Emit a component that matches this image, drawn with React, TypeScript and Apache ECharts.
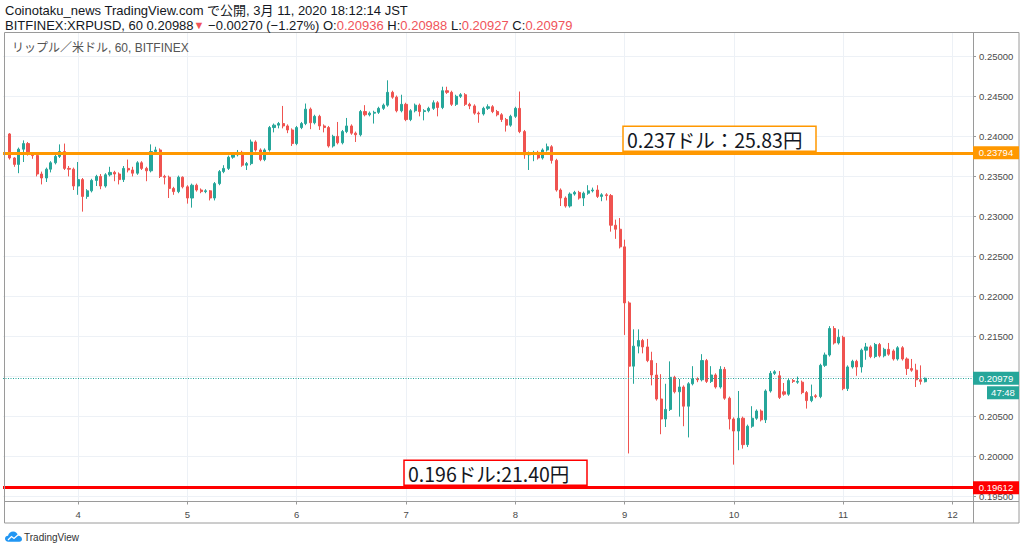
import React, { useEffect, useRef } from "react";
import * as echarts from "echarts";

// Hourly candles, each row = [open, high, low, close]
const mar03: number[][] = [
  [0.2403, 0.2404, 0.2371, 0.2373], [0.2373, 0.2374, 0.2362, 0.2365], [0.2365, 0.2386, 0.2354, 0.2384],
  [0.2384, 0.2395, 0.2368, 0.2391], [0.2391, 0.2393, 0.2376, 0.2378], [0.2378, 0.238, 0.2372, 0.2376],
  [0.2376, 0.2378, 0.235, 0.2353], [0.2353, 0.2356, 0.234, 0.2348], [0.2348, 0.2361, 0.2343, 0.2359],
  [0.2359, 0.2369, 0.2355, 0.2367], [0.2367, 0.2377, 0.2365, 0.2375], [0.2375, 0.239, 0.2373, 0.2381],
  [0.2381, 0.2391, 0.2358, 0.236], [0.236, 0.2363, 0.235, 0.2359], [0.2359, 0.2361, 0.2333, 0.2338],
];
const mar04: number[][] = [
  [0.2338, 0.2368, 0.2327, 0.2346], [0.2346, 0.2348, 0.2306, 0.2325], [0.2325, 0.2334, 0.2322, 0.2332],
  [0.2332, 0.2347, 0.233, 0.2345], [0.2345, 0.2352, 0.2338, 0.235], [0.235, 0.2353, 0.2334, 0.2338],
  [0.2338, 0.2354, 0.2336, 0.2352], [0.2352, 0.2362, 0.235, 0.2355], [0.2355, 0.2357, 0.2344, 0.2353],
  [0.2353, 0.2355, 0.234, 0.2346], [0.2346, 0.2363, 0.2343, 0.236], [0.236, 0.2371, 0.2355, 0.2358],
  [0.2358, 0.2362, 0.235, 0.2354], [0.2354, 0.2369, 0.2352, 0.2367], [0.2367, 0.2369, 0.2358, 0.236],
  [0.236, 0.2362, 0.2344, 0.2357], [0.2357, 0.239, 0.2355, 0.2381], [0.2381, 0.2387, 0.2378, 0.2383],
  [0.2383, 0.2385, 0.2348, 0.235], [0.235, 0.2352, 0.234, 0.2349], [0.2349, 0.2351, 0.2323, 0.2335],
  [0.2335, 0.2337, 0.2327, 0.2331], [0.2331, 0.2351, 0.2329, 0.2349], [0.2349, 0.235, 0.2335, 0.2337],
];
const mar05: number[][] = [
  [0.2337, 0.2339, 0.2316, 0.2323], [0.2323, 0.2341, 0.2311, 0.2339], [0.2339, 0.2341, 0.2331, 0.2333],
  [0.2333, 0.2335, 0.2329, 0.2331], [0.2331, 0.2334, 0.2329, 0.2332], [0.2332, 0.2333, 0.232, 0.2323],
  [0.2323, 0.2343, 0.232, 0.2341], [0.2341, 0.2358, 0.2339, 0.2356], [0.2356, 0.2364, 0.2354, 0.236],
  [0.236, 0.2376, 0.2358, 0.2374], [0.2374, 0.2379, 0.2372, 0.2377], [0.2377, 0.2383, 0.2375, 0.238],
  [0.238, 0.2382, 0.2362, 0.2364], [0.2364, 0.2368, 0.2358, 0.2366], [0.2366, 0.2396, 0.2364, 0.2393],
  [0.2393, 0.2395, 0.2381, 0.2383], [0.2383, 0.2385, 0.2369, 0.2371], [0.2371, 0.2385, 0.2369, 0.2383],
  [0.2383, 0.2413, 0.2381, 0.2411], [0.2411, 0.2416, 0.2405, 0.2414], [0.2414, 0.2418, 0.241, 0.2416],
  [0.2416, 0.2438, 0.241, 0.2413], [0.2413, 0.2415, 0.2404, 0.2408], [0.2408, 0.241, 0.2388, 0.2391],
];
const mar06: number[][] = [
  [0.2391, 0.2413, 0.2389, 0.2411], [0.2411, 0.2418, 0.2409, 0.2416], [0.2416, 0.2441, 0.2414, 0.2434],
  [0.2434, 0.2436, 0.2409, 0.2417], [0.2417, 0.2427, 0.2415, 0.2425], [0.2425, 0.2427, 0.2408, 0.2413],
  [0.2413, 0.2415, 0.2405, 0.2411], [0.2411, 0.2413, 0.2386, 0.2388], [0.2388, 0.2402, 0.2386, 0.24],
  [0.24, 0.2418, 0.239, 0.2392], [0.2392, 0.2408, 0.239, 0.2406], [0.2406, 0.2423, 0.2404, 0.2413],
  [0.2413, 0.2415, 0.2402, 0.2404], [0.2404, 0.2406, 0.2393, 0.2402], [0.2402, 0.2433, 0.24, 0.2431],
  [0.2431, 0.2439, 0.2425, 0.2427], [0.2427, 0.2431, 0.2425, 0.2429], [0.2429, 0.2432, 0.2416, 0.243],
  [0.243, 0.2437, 0.2428, 0.2435], [0.2435, 0.2441, 0.2433, 0.2439], [0.2439, 0.247, 0.2437, 0.2455],
  [0.2455, 0.2457, 0.2447, 0.2449], [0.2449, 0.2451, 0.243, 0.2432], [0.2432, 0.2452, 0.243, 0.244],
];
const mar07: number[][] = [
  [0.244, 0.2442, 0.2419, 0.2421], [0.2421, 0.2434, 0.2419, 0.2432], [0.2432, 0.2441, 0.243, 0.2439],
  [0.2439, 0.2441, 0.2425, 0.2431], [0.2431, 0.2434, 0.242, 0.2432], [0.2432, 0.2437, 0.243, 0.2435],
  [0.2435, 0.2445, 0.2433, 0.2442], [0.2442, 0.2444, 0.2425, 0.2436], [0.2436, 0.2462, 0.2434, 0.2457],
  [0.2457, 0.2462, 0.2453, 0.2455], [0.2455, 0.2457, 0.2438, 0.244], [0.244, 0.2452, 0.2438, 0.245],
  [0.245, 0.2454, 0.2448, 0.2452], [0.2452, 0.2454, 0.2438, 0.244], [0.244, 0.2442, 0.2434, 0.2438],
  [0.2438, 0.244, 0.2427, 0.2429], [0.2429, 0.2431, 0.2417, 0.2428], [0.2428, 0.2437, 0.2426, 0.2435],
  [0.2435, 0.244, 0.2433, 0.2437], [0.2437, 0.2439, 0.2429, 0.2431], [0.2431, 0.2433, 0.2425, 0.2427],
  [0.2427, 0.2429, 0.2418, 0.2421], [0.2421, 0.2423, 0.2406, 0.2414], [0.2414, 0.2427, 0.2412, 0.2425],
];
const mar08: number[][] = [
  [0.2425, 0.2437, 0.2423, 0.2435], [0.2435, 0.2456, 0.2404, 0.2406], [0.2406, 0.2408, 0.2372, 0.2377],
  [0.2377, 0.2381, 0.2358, 0.2379], [0.2379, 0.2382, 0.2369, 0.238], [0.238, 0.2382, 0.2371, 0.2373],
  [0.2373, 0.2385, 0.2371, 0.2383], [0.2383, 0.2391, 0.2381, 0.2387], [0.2387, 0.2389, 0.2366, 0.237],
  [0.237, 0.2372, 0.2331, 0.2333], [0.2333, 0.2335, 0.2313, 0.2323], [0.2323, 0.2325, 0.2311, 0.2313],
  [0.2313, 0.233, 0.2311, 0.2328], [0.2328, 0.2332, 0.2326, 0.233], [0.233, 0.2332, 0.2321, 0.2323],
  [0.2323, 0.2331, 0.2313, 0.2329], [0.2329, 0.2339, 0.2327, 0.2332], [0.2332, 0.2336, 0.233, 0.2333],
  [0.2333, 0.2339, 0.2323, 0.2325], [0.2325, 0.2329, 0.2319, 0.2327], [0.2327, 0.2329, 0.232, 0.2326],
  [0.2326, 0.2328, 0.2281, 0.2289], [0.2289, 0.2296, 0.2272, 0.2284], [0.2284, 0.2298, 0.226, 0.2262],
];
const mar09: number[][] = [
  [0.2262, 0.2271, 0.2152, 0.2192], [0.2192, 0.2194, 0.2004, 0.2113], [0.2113, 0.2159, 0.2091, 0.2138],
  [0.2138, 0.2159, 0.2129, 0.2145], [0.2145, 0.2147, 0.2129, 0.2137], [0.2137, 0.2147, 0.2118, 0.212],
  [0.212, 0.2131, 0.2089, 0.2102], [0.2102, 0.2117, 0.207, 0.2072], [0.2072, 0.2103, 0.2028, 0.2047],
  [0.2047, 0.2091, 0.2037, 0.2059], [0.2059, 0.2119, 0.2057, 0.2099], [0.2099, 0.2101, 0.2079, 0.2081],
  [0.2081, 0.2097, 0.205, 0.2087], [0.2087, 0.2089, 0.2038, 0.2063], [0.2063, 0.2093, 0.2024, 0.2091],
  [0.2091, 0.2113, 0.2089, 0.2097], [0.2097, 0.2099, 0.2093, 0.2096], [0.2096, 0.2128, 0.2094, 0.212],
  [0.212, 0.2122, 0.2092, 0.2094], [0.2094, 0.2113, 0.2092, 0.2102], [0.2102, 0.2104, 0.2085, 0.2087],
  [0.2087, 0.2113, 0.2085, 0.2109], [0.2109, 0.2112, 0.2071, 0.2073], [0.2073, 0.2075, 0.2034, 0.2047],
];
const mar10: number[][] = [
  [0.2047, 0.2049, 0.199, 0.2032], [0.2032, 0.2082, 0.2008, 0.2048], [0.2048, 0.205, 0.201, 0.2015],
  [0.2015, 0.204, 0.2012, 0.2038], [0.2038, 0.2063, 0.2036, 0.2048], [0.2048, 0.2059, 0.2046, 0.2057],
  [0.2057, 0.2059, 0.2044, 0.2046], [0.2046, 0.2084, 0.2042, 0.2082], [0.2082, 0.2107, 0.208, 0.2104],
  [0.2104, 0.2108, 0.2102, 0.2106], [0.2101, 0.2107, 0.2072, 0.2074], [0.2081, 0.2092, 0.2076, 0.2078],
  [0.2078, 0.2097, 0.2076, 0.2095], [0.2095, 0.2097, 0.2092, 0.2094], [0.2093, 0.21, 0.2091, 0.2094],
  [0.2093, 0.2095, 0.2078, 0.208], [0.208, 0.2082, 0.206, 0.207], [0.207, 0.209, 0.2068, 0.2075],
  [0.2076, 0.2078, 0.2073, 0.2075], [0.2075, 0.2116, 0.2073, 0.2114], [0.2114, 0.213, 0.2112, 0.2127],
  [0.2127, 0.2163, 0.2125, 0.216], [0.216, 0.2163, 0.214, 0.2142], [0.2142, 0.2159, 0.214, 0.2149],
];
const mar11: number[][] = [
  [0.2149, 0.2151, 0.2083, 0.2085], [0.2085, 0.2114, 0.2082, 0.2112], [0.2112, 0.2121, 0.211, 0.2119],
  [0.2119, 0.2121, 0.2101, 0.2112], [0.2112, 0.2135, 0.2105, 0.2133], [0.2133, 0.2142, 0.2121, 0.2137],
  [0.2137, 0.2139, 0.2123, 0.2125], [0.2125, 0.2142, 0.2123, 0.214], [0.214, 0.2142, 0.2124, 0.2126],
  [0.2126, 0.2136, 0.2124, 0.2134], [0.2134, 0.2142, 0.2126, 0.2128], [0.2132, 0.2134, 0.212, 0.2122],
  [0.2122, 0.2138, 0.212, 0.2136], [0.2136, 0.2138, 0.212, 0.2122], [0.2122, 0.2124, 0.2102, 0.211],
  [0.211, 0.2122, 0.2106, 0.2108], [0.2108, 0.2116, 0.2087, 0.2096], [0.2096, 0.2114, 0.209, 0.2094],
  [0.20936, 0.20988, 0.20927, 0.20979],
];

const dailyCandles = [mar03, mar04, mar05, mar06, mar07, mar08, mar09, mar10, mar11];
const firstCandleDay = 3;
const firstCandleHour = 9;
const slotsBefore = 1;
const slotsAfter = 10;
const dayTickLabels = ["4", "5", "6", "7", "8", "9", "10", "11", "12"];
const priceTicks = [0.195, 0.2, 0.205, 0.21, 0.215, 0.22, 0.225, 0.23, 0.235, 0.24, 0.245, 0.25];
const priceMin = 0.194398;
const priceMax = 0.253035;
const levelOrange = 0.23794;
const levelRed = 0.19612;
const lastClose = 0.20979;
const countdown = "47:48";
const noteOrange = "0.237ドル：25.83円";
const noteRed = "0.196ドル:21.40円";

const UP = "#26a69a";
const DOWN = "#ef5350";
const ORANGE = "#ff9800";
const RED = "#ff0000";
const GRIDC = "#edf1f6";
const FRAME = "#9a9a9a";
const LATIN = "'Liberation Sans', 'Noto Sans CJK JP', sans-serif";
const CJK = "'Noto Sans CJK JP', sans-serif";

export default function App() {
  const ref = useRef<HTMLDivElement>(null);

  useEffect(() => {
    if (!ref.current) return;
    const chart = echarts.init(ref.current, undefined, { renderer: "svg" });

    const candles = dailyCandles.flat();
    const totalSlots = slotsBefore + candles.length + slotsAfter;
    const categories: string[] = [];
    const tickMap: Record<string, string> = {};
    let dayIdx = 0;
    for (let j = 0; j < totalSlots; j++) {
      const h = j - slotsBefore + firstCandleHour;
      const day = firstCandleDay + Math.floor(h / 24);
      const hour = ((h % 24) + 24) % 24;
      const name = `3/${day} ${String(hour).padStart(2, "0")}:00`;
      categories.push(name);
      if (hour === 0 && dayIdx < dayTickLabels.length) {
        tickMap[name] = dayTickLabels[dayIdx++];
      }
    }
    const dayCats = Object.keys(tickMap);
    const rows = candles.map((c, i) => [i + slotsBefore, c[0], c[3], c[2], c[1]]);

    chart.setOption({
      animation: false,
      grid: { left: 3, right: 51, top: 32, bottom: 50.5, containLabel: false },
      xAxis: {
        type: "category",
        data: categories,
        boundaryGap: true,
        axisLine: { show: false },
        axisTick: {
          show: true,
          alignWithLabel: true,
          length: 3,
          interval: (_i: number, v: string) => v in tickMap,
          lineStyle: { color: FRAME },
        },
        axisLabel: {
          interval: (_i: number, v: string) => v in tickMap,
          formatter: (v: string) => tickMap[v] ?? "",
          color: "#4a4a4a",
          fontSize: 9.5,
          fontFamily: LATIN,
          margin: 8,
        },
        splitLine: { show: false },
      },
      yAxis: {
        type: "value",
        position: "right",
        min: priceMin,
        max: priceMax,
        scale: true,
        axisLine: { show: false },
        axisTick: { show: true, length: 3, customValues: priceTicks, lineStyle: { color: FRAME } },
        axisLabel: {
          customValues: priceTicks,
          formatter: (v: number) => v.toFixed(5),
          color: "#4a4a4a",
          fontSize: 9.5,
          fontFamily: LATIN,
          margin: 6,
        },
        splitLine: { show: false },
      },
      series: [
        {
          type: "line",
          data: [],
          z: 1,
          silent: true,
          markLine: {
            silent: true,
            z: 1,
            precision: 6,
            symbol: ["none", "none"],
            label: { show: false },
            emphasis: { disabled: true },
            lineStyle: { color: GRIDC, width: 1, type: "solid" },
            data: [
              ...priceTicks.map((v) => ({ yAxis: v })),
              ...dayCats.map((c) => ({ xAxis: c })),
            ],
          },
        },
        {
          type: "candlestick",
          z: 3,
          encode: { x: 0, y: [1, 2, 3, 4] },
          data: rows,
          barWidth: 2.6,
          itemStyle: {
            color: UP,
            color0: DOWN,
            borderColor: UP,
            borderColor0: DOWN,
            borderWidth: 1,
          },
          markLine: {
            silent: true,
            z: 6,
            precision: 6,
            symbol: ["none", "none"],
            label: { show: false },
            emphasis: { disabled: true },
            data: [
              { yAxis: lastClose, lineStyle: { color: UP, width: 1, type: [1, 1.5] } },
              { yAxis: levelOrange, lineStyle: { color: ORANGE, width: 3, type: "solid" } },
              { yAxis: levelRed, lineStyle: { color: RED, width: 3, type: "solid" } },
            ],
          },
        },
      ],
    });

    const py = (v: number) => chart.convertToPixel({ yAxisIndex: 0 }, v) as number;
    const yO = py(levelOrange);
    const yR = py(levelRed);
    const yT = py(lastClose);

    const tag = (y: number, text: string, color: string, x = 973, w = 46) => [
      { type: "rect", z: 50, shape: { x, y: y - 6.5, width: w, height: 13 }, style: { fill: color } },
      {
        type: "text",
        z: 51,
        x: x + w / 2,
        y,
        style: {
          text,
          fill: "#fff",
          fontSize: 9.5,
          fontFamily: LATIN,
          align: "center",
          verticalAlign: "middle",
          textAlign: "center",
          textVerticalAlign: "middle",
        },
      },
    ];

    const red = { fill: "#f0545a" };
    try {
      echarts.graphic.registerShape(
        "tvlogo",
        echarts.graphic.extendPath(
          "M4 12C1.5 12 0 10.4 0 8.6C0 6.6 1.6 5.1 3.6 5.1C4.1 2.1 6.6 0 9.6 0C12.5 0 14.8 2 15.4 4.7C18 4.9 20 6.8 20 9.1C20 10.8 18.7 12 17 12Z",
          {}
        )
      );
    } catch (e) {
      /* already registered */
    }

    chart.setOption({
      graphic: {
        elements: [
          {
            type: "text",
            z: 50,
            x: 5,
            y: 10.5,
            style: {
              text: "Coinotaku_news TradingView.com で公開, 3月 11, 2020 18:12:14 JST",
              fill: "#131722",
              fontSize: 13,
              fontFamily: LATIN,
              verticalAlign: "middle",
              textVerticalAlign: "middle",
            },
          },
          {
            type: "text",
            z: 50,
            x: 5,
            y: 25,
            style: {
              text:
                "{k|BITFINEX:XRPUSD, 60 0.20988}{a|▼}{k| −0.00270 (−1.27%) O:}{r|0.20936}{k| H:}{r|0.20988}{k| L:}{r|0.20927}{k| C:}{r|0.20979}",
              fill: "#131722",
              fontSize: 13,
              fontFamily: LATIN,
              verticalAlign: "middle",
              textVerticalAlign: "middle",
              rich: {
                k: { fill: "#131722", color: "#131722", fontSize: 13, fontFamily: LATIN },
                r: { ...red, color: "#f0545a", fontSize: 13, fontFamily: LATIN },
                a: { ...red, color: "#f0545a", fontSize: 11, fontFamily: LATIN },
              },
            },
          },
          {
            type: "rect",
            z: 40,
            shape: { x: 4.5, y: 32.5, width: 1014.5, height: 490.5 },
            style: { fill: "none", stroke: FRAME, lineWidth: 1 },
          },
          {
            type: "line",
            z: 40,
            shape: { x1: 973.5, y1: 32.5, x2: 973.5, y2: 523 },
            style: { stroke: FRAME, lineWidth: 1 },
          },
          {
            type: "line",
            z: 40,
            shape: { x1: 4.5, y1: 501.5, x2: 1019, y2: 501.5 },
            style: { stroke: FRAME, lineWidth: 1 },
          },
          {
            type: "text",
            z: 50,
            x: 12,
            y: 48,
            style: {
              text: "リップル／米ドル, 60, BITFINEX",
              fill: "#555",
              fontSize: 12,
              fontFamily: LATIN,
              verticalAlign: "middle",
              textVerticalAlign: "middle",
            },
          },
          {
            type: "rect",
            z: 45,
            shape: { x: 623, y: yO - 26.5, width: 193, height: 25 },
            style: { fill: "#fff", stroke: ORANGE, lineWidth: 1.5 },
          },
          {
            type: "text",
            z: 46,
            x: 627,
            y: yO - 13.5,
            style: {
              text: noteOrange,
              fill: "#131722",
              fontSize: 19.5,
              fontFamily: CJK,
              verticalAlign: "middle",
              textVerticalAlign: "middle",
            },
          },
          {
            type: "rect",
            z: 45,
            shape: { x: 404, y: yR - 27.5, width: 183, height: 25 },
            style: { fill: "#fff", stroke: RED, lineWidth: 1.5 },
          },
          {
            type: "text",
            z: 46,
            x: 408,
            y: yR - 14.5,
            style: {
              text: noteRed,
              fill: "#131722",
              fontSize: 19.5,
              fontFamily: CJK,
              verticalAlign: "middle",
              textVerticalAlign: "middle",
            },
          },
          ...tag(yO, levelOrange.toFixed(5), ORANGE),
          ...tag(yT, lastClose.toFixed(5), UP),
          ...tag(yT + 14.5, countdown, UP, 987, 32),
          ...tag(yR, levelRed.toFixed(5), RED),
          {
            type: "tvlogo",
            z: 50,
            x: 5,
            y: 531.5,
            scaleX: 0.85,
            scaleY: 0.85,
            style: { fill: "#2196f3" },
          },
          {
            type: "polyline",
            z: 51,
            shape: { points: [[8, 540], [11.5, 536.5], [14, 538.5], [18.5, 534.5]] },
            style: { stroke: "#fff", lineWidth: 1.3, fill: "none" },
          },
          {
            type: "text",
            z: 50,
            x: 24,
            y: 537,
            style: {
              text: "TradingView",
              fill: "#333",
              fontSize: 10,
              fontFamily: LATIN,
              verticalAlign: "middle",
              textVerticalAlign: "middle",
            },
          },
        ],
      },
    });

    return () => chart.dispose();
  }, []);

  return (
    <div
      ref={ref}
      style={{ position: "absolute", left: 0, top: 0, width: 1024, height: 552, background: "#fff" }}
    />
  );
}
